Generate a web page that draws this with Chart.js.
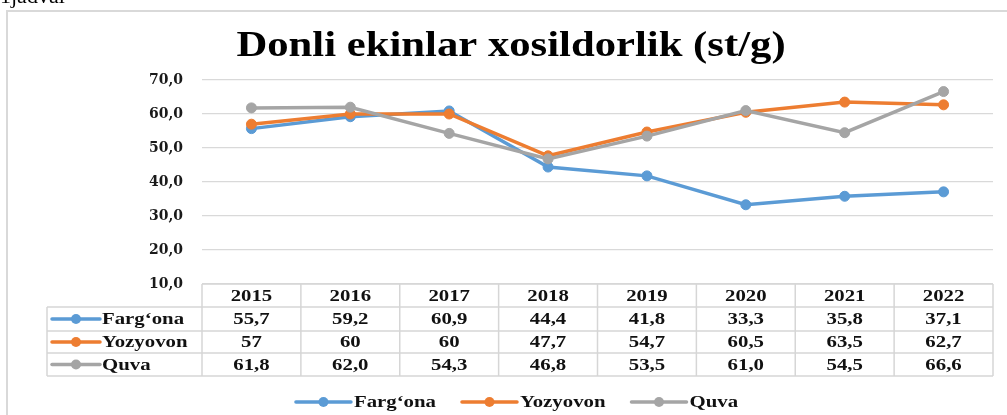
<!DOCTYPE html>
<html>
<head>
<meta charset="utf-8">
<title>Donli ekinlar xosildorlik</title>
<script src="https://cdn.jsdelivr.net/npm/chart.js@4/dist/chart.umd.min.js"></script>
<style>
  html, body { margin: 0; padding: 0; background: #ffffff; }
  canvas { display: block; }
</style>
</head>
<body>
<canvas id="chart" width="1007" height="415"></canvas>
<script>
// Years shown along the horizontal axis and in the table header
const years = ['2015', '2016', '2017', '2018', '2019', '2020', '2021', '2022'];

// Yield per district, st/g
const fargona  = [55.7, 59.2, 60.9, 44.4, 41.8, 33.3, 35.8, 37.1];
const yozyovon = [57, 60, 60, 47.7, 54.7, 60.5, 63.5, 62.7];
const quva     = [61.8, 62.0, 54.3, 46.8, 53.5, 61.0, 54.5, 66.6];

const seriesNames  = ['Farg‘ona', 'Yozyovon', 'Quva'];
const seriesColors = ['#5B9BD5', '#ED7D31', '#A5A5A5'];
// number format used in the data table for each series
const valueFormats = ['0.0', 'General', '0.0'];

// value axis
const yMin = 10;
const yMax = 70;
const yStep = 10;

const chartTitle = 'Donli ekinlar xosildorlik (st/g)';
const captionText = '1jadval';

const seriesValues = [fargona, yozyovon, quva];

function formatValue(v, fmt) {
  const s = fmt === '0.0' ? v.toFixed(1) : String(v);
  return s.replace('.', ',');
}

function stretchedText(ctx, text, x, y, align, sx) {
  ctx.save();
  ctx.translate(x, y);
  ctx.scale(sx, 1);
  ctx.textAlign = align;
  ctx.fillText(text, 0, 0);
  ctx.restore();
}

function legendKey(ctx, x1, x2, y, color) {
  ctx.save();
  ctx.strokeStyle = color;
  ctx.lineWidth = 3.5;
  ctx.lineCap = 'round';
  ctx.beginPath();
  ctx.moveTo(x1, y);
  ctx.lineTo(x2, y);
  ctx.stroke();
  ctx.fillStyle = color;
  ctx.beginPath();
  ctx.arc((x1 + x2) / 2, y, 5, 0, Math.PI * 2);
  ctx.fill();
  ctx.restore();
}

const TEXT_SX = 1.3;
const TEXT_FONT = 'bold 16px "Liberation Serif", "Times New Roman", serif';

const backdrop = {
  id: 'backdrop',
  beforeDraw(chart) {
    const ctx = chart.ctx;
    ctx.save();
    ctx.fillStyle = '#ffffff';
    ctx.fillRect(0, 0, chart.width, chart.height);
    // outer frame
    ctx.strokeStyle = '#d9d9d9';
    ctx.lineWidth = 2;
    ctx.beginPath();
    ctx.moveTo(7, chart.height + 2);
    ctx.lineTo(7, 11);
    ctx.lineTo(chart.width + 2, 11);
    ctx.stroke();
    // caption above the frame
    ctx.fillStyle = '#000000';
    ctx.font = '22px "Liberation Serif", "Times New Roman", serif';
    ctx.textAlign = 'left';
    ctx.textBaseline = 'alphabetic';
    ctx.fillText(captionText, 0, 3);
    // title
    ctx.font = 'bold 35px "Liberation Serif", "Times New Roman", serif';
    stretchedText(ctx, chartTitle, 511, 56, 'center', 1.22);
    ctx.restore();
  }
};

const dataTable = {
  id: 'dataTable',
  afterDraw(chart) {
    const ctx = chart.ctx;
    const xs = chart.scales.x;
    const area = chart.chartArea;
    const step = xs.getPixelForValue(1) - xs.getPixelForValue(0);
    const rowTops = [area.bottom, area.bottom + 23, area.bottom + 47, area.bottom + 69, area.bottom + 92];
    const labelLeft = 47;
    const bounds = [];
    for (let i = 0; i <= years.length; i++) {
      bounds.push(xs.getPixelForValue(0) - step / 2 + i * step);
    }
    const right = bounds[bounds.length - 1];

    ctx.save();
    ctx.strokeStyle = '#d6d6d6';
    ctx.lineWidth = 1.5;
    ctx.beginPath();
    ctx.moveTo(bounds[0], rowTops[0]);
    ctx.lineTo(right, rowTops[0]);
    for (let r = 1; r < rowTops.length; r++) {
      ctx.moveTo(labelLeft, rowTops[r]);
      ctx.lineTo(right, rowTops[r]);
    }
    ctx.moveTo(labelLeft, rowTops[1]);
    ctx.lineTo(labelLeft, rowTops[rowTops.length - 1]);
    bounds.forEach(b => {
      ctx.moveTo(b, rowTops[0]);
      ctx.lineTo(b, rowTops[rowTops.length - 1]);
    });
    ctx.stroke();

    ctx.fillStyle = '#111111';
    ctx.font = TEXT_FONT;
    ctx.textBaseline = 'middle';
    // header row with years
    const headMid = (rowTops[0] + rowTops[1]) / 2 + 1;
    years.forEach((y, i) => {
      stretchedText(ctx, y, xs.getPixelForValue(i), headMid, 'center', TEXT_SX);
    });
    // one row per series
    seriesValues.forEach((vals, s) => {
      const mid = (rowTops[s + 1] + rowTops[s + 2]) / 2 + 1;
      legendKey(ctx, 52, 100, mid - 1, seriesColors[s]);
      ctx.fillStyle = '#111111';
      stretchedText(ctx, seriesNames[s], 102, mid, 'left', TEXT_SX);
      vals.forEach((v, i) => {
        stretchedText(ctx, formatValue(v, valueFormats[s]), xs.getPixelForValue(i), mid, 'center', TEXT_SX);
      });
    });

    // legend below the table
    const keyW = 55, gap = 3, spacing = 26;
    const widths = seriesNames.map(n => ctx.measureText(n).width * TEXT_SX);
    const total = widths.reduce((a, b) => a + b, 0) + seriesNames.length * (keyW + gap) + (seriesNames.length - 1) * spacing;
    let x = 517 - total / 2;
    const ly = 402;
    seriesNames.forEach((n, s) => {
      legendKey(ctx, x, x + keyW, ly, seriesColors[s]);
      x += keyW + gap;
      ctx.fillStyle = '#111111';
      stretchedText(ctx, n, x, ly + 1, 'left', TEXT_SX);
      x += widths[s] + spacing;
    });
    ctx.restore();
  }
};

const datasets = seriesValues.map((vals, s) => ({
  label: seriesNames[s],
  data: vals,
  borderColor: seriesColors[s],
  backgroundColor: seriesColors[s],
  pointBackgroundColor: seriesColors[s],
  pointBorderColor: seriesColors[s],
  borderWidth: 3.5,
  pointRadius: 5,
  pointBorderWidth: 1,
  tension: 0,
  order: seriesValues.length - 1 - s
}));

new Chart(document.getElementById('chart'), {
  type: 'line',
  data: { labels: years, datasets },
  plugins: [backdrop, dataTable],
  options: {
    responsive: false,
    animation: false,
    devicePixelRatio: 1,
    layout: { padding: { left: 0, right: 14, top: 80, bottom: 131 } },
    plugins: {
      legend: { display: false },
      title: { display: false },
      tooltip: { enabled: false }
    },
    scales: {
      x: {
        type: 'category',
        display: false,
        offset: true
      },
      y: {
        min: yMin,
        max: yMax,
        afterFit(scale) { scale.width = 202; },
        border: { display: false },
        grid: { color: '#d9d9d9', lineWidth: 1.2, drawTicks: false },
        ticks: {
          stepSize: yStep,
          padding: 19,
          color: '#1a1a1a',
          font: { family: 'DejaVu Serif', weight: 'bold', size: 14 },
          callback: v => Number(v).toFixed(1).replace('.', ',')
        }
      }
    }
  }
});
</script>
</body>
</html>
